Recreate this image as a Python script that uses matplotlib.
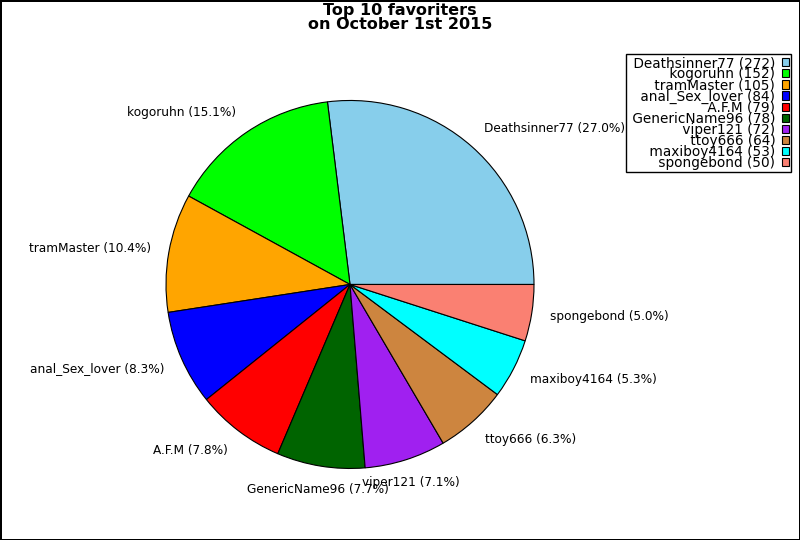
import matplotlib
matplotlib.use('Agg')
import numpy as np
from matplotlib import pyplot as plt

names = ['Deathsinner77', 'kogoruhn', 'tramMaster', 'anal_Sex_lover', 'A.F.M',
         'GenericName96', 'viper121', 'ttoy666', 'maxiboy4164', 'spongebond']
counts = [272, 152, 105, 84, 79, 78, 72, 64, 53, 50]
colors = ['skyblue', '#00ff00', 'orange', 'blue', 'red',
          '#006400', '#a020f0', 'peru', 'cyan', 'salmon']

total = sum(counts)
pie_labels = ['{} ({:.1f}%)'.format(n, c * 100.0 / total) for n, c in zip(names, counts)]
legend_labels = [' {} ({})'.format(n, c) for n, c in zip(names, counts)]

fig = plt.figure(figsize=(8, 5.4), dpi=100)
fig.patch.set_edgecolor('black')
fig.patch.set_linewidth(1)

ax = fig.add_axes([0.15, 0.0472, 0.575, 0.852])
wedges, texts = ax.pie(counts, labels=pie_labels, colors=colors, startangle=0,
                       wedgeprops={'edgecolor': 'black', 'linewidth': 0.8},
                       textprops={'fontsize': 8.7})
ax.set_aspect('equal')

# label alignment like the original: centred near the vertical, nudged outwards top/bottom
for w, t in zip(wedges, texts):
    th = np.deg2rad((w.theta1 + w.theta2) / 2.0)
    c, s = np.cos(th), np.sin(th)
    if abs(c) < 0.35:
        t.set_ha('center')
    else:
        t.set_ha('left' if c > 0 else 'right')
    x, y = t.get_position()
    t.set_position((x, y + 0.03 * s))

fig.suptitle('Top 10 favoriters\non October 1st 2015', fontsize=11.5,
             fontweight='bold', y=0.995, va='top', linespacing=0.95)

leg = fig.legend(wedges, legend_labels, loc='upper right',
                 bbox_to_anchor=(791 / 800, 1 - 54 / 540), markerfirst=False,
                 fontsize=9.8, labelspacing=-0.212, handlelength=0.5, handleheight=0.55,
                 handletextpad=0.5, borderpad=0.15, fancybox=False, framealpha=1,
                 borderaxespad=0)
leg.get_frame().set_edgecolor('black')
for t in leg.get_texts():
    t.set_ha('right')
leg._legend_box.align = 'right'

fig.savefig('out.png', dpi=100, edgecolor=fig.get_edgecolor())
